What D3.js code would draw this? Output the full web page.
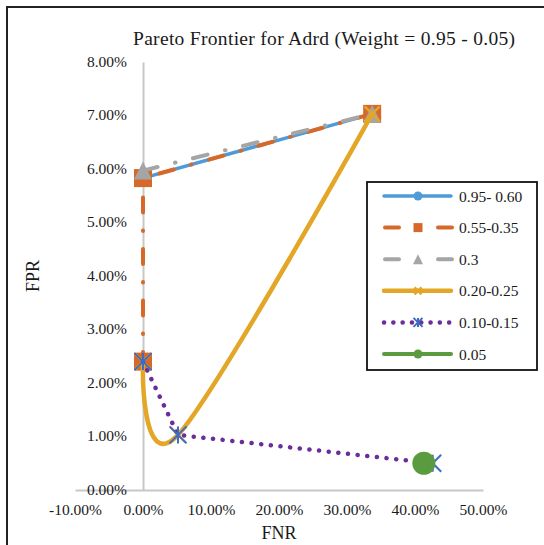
<!DOCTYPE html>
<html>
<head>
<meta charset="utf-8">
<script src="https://cdn.jsdelivr.net/npm/d3@7/dist/d3.min.js"></script>
<style>
  html, body { margin: 0; padding: 0; background: #fff; }
  svg { display: block; }
  text { font-family: "Liberation Serif", "Times New Roman", serif; fill: #1a1a1a; }
</style>
</head>
<body>
<svg id="chart" width="544" height="545"></svg>
<script>
// Axis ticks
const xTicks = [-0.10, 0.00, 0.10, 0.20, 0.30, 0.40, 0.50];
const yTicks = [0.00, 0.01, 0.02, 0.03, 0.04, 0.05, 0.06, 0.07, 0.08];

// Series names (weight ranges)
const seriesNames = ["0.95- 0.60", "0.55-0.35", "0.3", "0.20-0.25", "0.10-0.15", "0.05"];

// FNR / FPR values per series
const fnr095_060 = [0.000, 0.337];
const fpr095_060 = [0.0583, 0.0703];

const fnr055_035 = [0.337, 0.000, 0.000];
const fpr055_035 = [0.0703, 0.0583, 0.0240];

const fnr030 = [0.000, 0.337];
const fpr030 = [0.0597, 0.0703];

const fnr020_025 = [0.000, 0.0515, 0.337];
const fpr020_025 = [0.0240, 0.0103, 0.0703];

const fnr010_015 = [0.000, 0.0515, 0.426];
const fpr010_015 = [0.0240, 0.0103, 0.0050];

const fnr005 = [0.413];
const fpr005 = [0.0050];

const svg = d3.select("#chart");

// chart frame
svg.append("rect")
  .attr("x", 7).attr("y", 7).attr("width", 700).attr("height", 700)
  .attr("fill", "none").attr("stroke", "#222").attr("stroke-width", 2);

const x = d3.scaleLinear().domain([-0.10, 0.50]).range([75, 483]);
const y = d3.scaleLinear().domain([0, 0.08]).range([490, 62]);
// percent labels with a plain hyphen for negatives
const pct = v => d3.format(".2%")(v).replace("\u2212", "-");

// X axis along FPR = 0
const gx = svg.append("g")
  .attr("transform", `translate(0,${y(0)})`)
  .call(d3.axisBottom(x).tickValues(xTicks).tickFormat(pct).tickSize(0).tickSizeOuter(0).tickPadding(14));
gx.select(".domain").attr("stroke", "#c8c8c8").attr("stroke-width", 2);
gx.selectAll("text").attr("font-size", 15.5).attr("font-family", "Liberation Serif").attr("fill", "#1a1a1a");

// Y axis along FNR = 0, labels to the left
const gy = svg.append("g")
  .attr("transform", `translate(${x(0)},0)`)
  .call(d3.axisLeft(y).tickValues(yTicks).tickFormat(pct).tickSize(0).tickSizeOuter(0).tickPadding(16));
gy.select(".domain").attr("stroke", "#c8c8c8").attr("stroke-width", 2);
gy.selectAll("text").attr("font-size", 15.5).attr("font-family", "Liberation Serif").attr("fill", "#1a1a1a").attr("dy", "0.28em");

// Titles
svg.append("text").attr("x", 324).attr("y", 45).attr("text-anchor", "middle")
  .attr("font-size", 19.5).attr("textLength", 382).attr("lengthAdjust", "spacing")
  .text("Pareto Frontier for Adrd (Weight = 0.95 - 0.05)");
svg.append("text").attr("x", 279).attr("y", 539).attr("text-anchor", "middle")
  .attr("font-size", 18).text("FNR");
svg.append("text").attr("transform", "translate(39,276) rotate(-90)").attr("text-anchor", "middle")
  .attr("font-size", 18).text("FPR");

// Marker shapes
function drawMarker(g, type, cx, cy, s, color) {
  if (type === "circle") {
    g.append("circle").attr("cx", cx).attr("cy", cy).attr("r", s / 2).attr("fill", color);
  } else if (type === "square") {
    g.append("rect").attr("x", cx - s / 2).attr("y", cy - s / 2).attr("width", s).attr("height", s).attr("fill", color);
  } else if (type === "triangle") {
    g.append("path").attr("d", `M${cx},${cy - s / 2}L${cx + s / 2},${cy + s / 2}L${cx - s / 2},${cy + s / 2}Z`).attr("fill", color);
  } else if (type === "x") {
    const h = s / 2;
    g.append("path").attr("d", `M${cx - h},${cy - h}L${cx + h},${cy + h}M${cx + h},${cy - h}L${cx - h},${cy + h}`)
      .attr("stroke", color).attr("stroke-width", 2.5).attr("fill", "none");
  } else if (type === "star") {
    const h = s / 2;
    g.append("path").attr("d", `M${cx - h},${cy - h}L${cx + h},${cy + h}M${cx + h},${cy - h}L${cx - h},${cy + h}M${cx},${cy - h}L${cx},${cy + h}`)
      .attr("stroke", color).attr("stroke-width", 2).attr("fill", "none");
  }
}

const seriesStyle = [
  { fx: fnr095_060, fy: fpr095_060, color: "#4f9bd8", width: 3.5, dash: null, cap: "round", curve: d3.curveLinear, marker: "circle", mSize: 9, mColor: "#4f9bd8", lm: 9 },
  { fx: fnr055_035, fy: fpr055_035, color: "#d6692a", width: 4, dash: "15 18 0.5 18", cap: "round", curve: d3.curveLinear, marker: "square", mSize: 18, mColor: "#d6692a", lm: 9 },
  { fx: fnr030, fy: fpr030, color: "#a5a5a5", width: 4, dash: "15 18 0.5 18", cap: "round", curve: d3.curveLinear, marker: "triangle", mSize: 18, mColor: "#a5a5a5", lm: 10 },
  { fx: fnr020_025, fy: fpr020_025, color: "#e3a626", width: 4.5, dash: null, cap: "round", curve: d3.curveCardinal.tension(0), marker: "x", mSize: 15, mColor: "#e3a626", lm: 7 },
  { fx: fnr010_015, fy: fpr010_015, color: "#6b2d9c", width: 4.5, dash: "0.1 9.6", cap: "round", curve: d3.curveLinear, marker: "star", mSize: 17, mColor: "#3c6dc2", lm: 9 },
  { fx: fnr005, fy: fpr005, color: "#5a9b40", width: 4, dash: null, cap: "round", curve: d3.curveLinear, marker: "circle", mSize: 23, mColor: "#5a9b40", lm: 9 }
];

const plot = svg.append("g");
seriesStyle.forEach((s) => {
  const g = plot.append("g");
  const pts = s.fx.map((v, i) => [v, s.fy[i]]);
  const line = d3.line().x(d => x(d[0])).y(d => y(d[1])).curve(s.curve);
  if (pts.length > 1) {
    g.append("path").attr("d", line(pts)).attr("fill", "none")
      .attr("stroke", s.color).attr("stroke-width", s.width)
      .attr("stroke-linecap", s.cap).attr("stroke-linejoin", "round")
      .attr("stroke-dasharray", s.dash);
  }
  pts.forEach(d => drawMarker(g, s.marker, x(d[0]), y(d[1]), s.mSize, s.mColor));
});

// Legend
const lg = svg.append("g");
lg.append("rect").attr("x", 367).attr("y", 182).attr("width", 170).attr("height", 188)
  .attr("fill", "#fff").attr("stroke", "#111").attr("stroke-width", 1.8);
seriesStyle.forEach((s, i) => {
  const cy = 196 + i * 31.6;
  const g = lg.append("g");
  if (s.dash === "0.1 9.6") {
    g.append("line").attr("x1", 384).attr("x2", 454).attr("y1", cy).attr("y2", cy)
      .attr("stroke", s.color).attr("stroke-width", 4.5).attr("stroke-linecap", "round").attr("stroke-dasharray", "0.1 9.2");
  } else if (s.dash) {
    g.append("line").attr("x1", 385).attr("x2", 452).attr("y1", cy).attr("y2", cy)
      .attr("stroke", s.color).attr("stroke-width", 4).attr("stroke-linecap", "round").attr("stroke-dasharray", "14 39");
  } else {
    g.append("line").attr("x1", 384).attr("x2", 451).attr("y1", cy).attr("y2", cy)
      .attr("stroke", s.color).attr("stroke-width", s.width).attr("stroke-linecap", "round");
  }
  drawMarker(g, s.marker, 418, cy, s.lm, s.mColor);
  g.append("text").attr("x", 459).attr("y", cy + 5.5).attr("font-size", 15.5).text(seriesNames[i]);
});
</script>
</body>
</html>
